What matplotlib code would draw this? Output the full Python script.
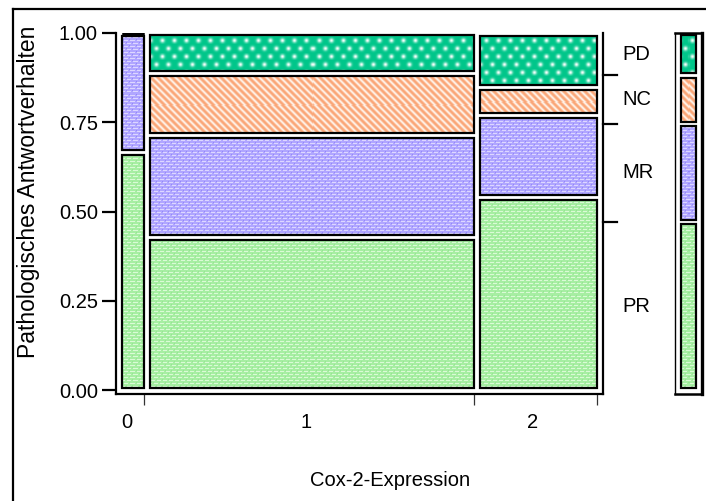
import numpy as np
import matplotlib
matplotlib.use("Agg")
import matplotlib.pyplot as plt
import matplotlib.transforms as mtransforms
from matplotlib.patches import Rectangle
from matplotlib.lines import Line2D

plt.rcParams['font.family'] = ['Liberation Sans', 'DejaVu Sans']

# ---- data -------------------------------------------------------------
expression_levels = ['0', '1', '2']
response_categories = ['PR', 'MR', 'NC', 'PD']          # bottom to top
counts_pr = [2, 15, 7]
counts_mr = [1, 10, 3]
counts_nc = [0, 6, 1]
counts_pd = [0, 4, 2]
y_ticks = [0.0, 0.25, 0.50, 0.75, 1.0]
y_tick_labels = ['0.00', '0.25', '0.50', '0.75', '1.00']
x_label = 'Cox-2-Expression'
y_label = 'Pathologisches Antwortverhalten'

counts = np.array([counts_pr, counts_mr, counts_nc, counts_pd], dtype=float)  # (cat, level)
col_totals = counts.sum(axis=0)
col_frac = col_totals / col_totals.sum()
col_edges = np.concatenate([[0.0], np.cumsum(col_frac)])
cell_frac = counts / col_totals
cell_edges = np.vstack([np.zeros(len(expression_levels)), np.cumsum(cell_frac, axis=0)])
marg = counts.sum(axis=1) / counts.sum()
marg_edges = np.concatenate([[0.0], np.cumsum(marg)])

# ---- figure layout (pixel based) --------------------------------------
W, H, DPI = 706, 501, 100
fig = plt.figure(figsize=(W / DPI, H / DPI), dpi=DPI)


def fig_box(x0, y0, x1, y1):
    return [x0 / W, 1 - y1 / H, (x1 - x0) / W, (y1 - y0) / H]


AX_L, AX_T, AX_R, AX_B = 116, 33, 603, 394
X0_PX, X1_PX = 119, 600          # pixel span of the unit interval on x
Y0_PX, Y1_PX = 390, 33           # pixel positions of 0 and 1 on y
ux = X1_PX - X0_PX
uy = Y0_PX - Y1_PX

ax = fig.add_axes(fig_box(AX_L, AX_T, AX_R, AX_B))
xlim = ((AX_L - X0_PX) / ux, (AX_R - X0_PX) / ux)
ylim = (-(AX_B - Y0_PX) / uy, 1 + (Y1_PX - AX_T) / uy)
ax.set_xlim(*xlim)
ax.set_ylim(*ylim)

axm = fig.add_axes(fig_box(675, AX_T, 702, AX_B))
axm.set_xlim(0, 1)
axm.set_ylim(*ylim)


# ---- fill textures ----------------------------------------------------
def mix(base, other, a):
    base = np.asarray(base, float)
    other = np.asarray(other, float)
    return base * (1 - a[..., None]) + other * a[..., None]


def texture(kind, X, Y):
    if kind == 'PD':
        row_sp, col_sp = 8.0, 12.0
        r = np.round(Y / row_sp)
        cy = r * row_sp
        shift = (r % 2) * col_sp / 2
        cx = np.round((X - shift) / col_sp) * col_sp + shift
        d2 = (X - cx) ** 2 + (Y - cy) ** 2
        a = 0.97 * np.exp(-d2 / (2 * 1.6 ** 2))
        return mix((0, 198, 138), (248, 255, 252), a)
    if kind == 'NC':
        t = ((X - Y) % 7) / 7.0
        a = (0.5 + 0.5 * np.cos(2 * np.pi * t)) ** 1.4
        return mix((250, 166, 120), (255, 242, 232), a)
    if kind == 'MR':
        base, light, dark = (176, 166, 255), (236, 232, 255), (130, 115, 245)
    else:
        base, light, dark = (166, 238, 162), (236, 255, 232), (140, 222, 138)
    row = Y % 3
    blk = (Y // 3) % 2
    c = (X + 3 * blk) % 6
    a = np.where((row == 1) & (c >= 1) & (c <= 4), 0.75, 0.0)
    img = mix(base, light, a)
    d = np.where((row == 0) & (c == 0), 0.6, 0.0)
    return mix(img, dark, d)


def textured_cell(axis, x0, x1, y0, y1, kind):
    p0 = axis.transData.transform((x0, y1))
    p1 = axis.transData.transform((x1, y0))
    ox, oy = p0[0], H - p0[1]
    w = max(int(round(p1[0] - p0[0])), 1)
    h = max(int(round((H - p1[1]) - oy)), 1)
    X, Y = np.meshgrid(np.arange(w) + np.floor(ox), np.arange(h) + np.floor(oy))
    img = np.clip(texture(kind, X, Y), 0, 255).astype(np.uint8)
    axis.imshow(img, extent=(x0, x1, y0, y1), origin='upper', aspect='auto',
                interpolation='nearest', zorder=1)
    axis.add_patch(Rectangle((x0, y0), x1 - x0, y1 - y0, fill=False,
                             edgecolor='black', lw=1.6, zorder=3,
                             joinstyle='miter'))


# ---- mosaic cells -----------------------------------------------------
ix, iy = 3.0 / ux, 2.5 / uy
for j in range(len(expression_levels)):
    cx0, cx1 = col_edges[j] + ix, col_edges[j + 1] - ix
    for i, cat in enumerate(response_categories):
        lo, hi = cell_edges[i, j], cell_edges[i + 1, j]
        if counts[i, j] == 0:
            ax.add_patch(Rectangle((cx0, hi), cx1 - cx0, 0, fill=False,
                                   edgecolor='black', lw=2.2, zorder=4))
            continue
        textured_cell(ax, cx0, cx1, lo + iy, hi - iy, cat)

# marginal bar
for i, cat in enumerate(response_categories):
    textured_cell(axm, 0.22, 0.78, marg_edges[i] + iy, marg_edges[i + 1] - iy, cat)

ax.set_xlim(*xlim)
ax.set_ylim(*ylim)
axm.set_xlim(0, 1)
axm.set_ylim(*ylim)

# ---- axes styling -----------------------------------------------------
for a in (ax, axm):
    a.set_facecolor('white')
    a.spines['top'].set_visible(False)
for s in ('left', 'bottom', 'right'):
    ax.spines[s].set_linewidth(1.6)

axm.set_xticks([])
axm.set_yticks([])
axm.spines['top'].set_visible(True)
axm.spines['top'].set_linewidth(1.8)
axm.spines['left'].set_linewidth(1.0)
axm.spines['right'].set_linewidth(2.4)
axm.spines['bottom'].set_linewidth(1.8)

ax.set_yticks(y_ticks, y_tick_labels)
ax.tick_params(axis='y', direction='out', length=10, width=1.6, labelsize=14.5,
               pad=3, colors='black')

centers = (col_edges[:-1] + col_edges[1:]) / 2
ax.set_xticks(centers, expression_levels)
ax.tick_params(axis='x', which='major', length=0, labelsize=14.5, pad=14)
ax.set_xticks(col_edges[1:] - ix, minor=True)
ax.tick_params(axis='x', which='minor', direction='out', length=8, width=0.9,
               color='#333333')
shift = mtransforms.ScaledTranslation(-6 / DPI, 0, fig.dpi_scale_trans)
for lab in ax.get_xticklabels():
    lab.set_transform(lab.get_transform() + shift)

# category ticks and labels on the right of the mosaic
blend = mtransforms.blended_transform_factory(ax.transAxes, ax.transData)
axw = AX_R - AX_L
for b in marg_edges[1:-1]:
    ax.add_line(Line2D([1.0, 1.0 + 14 / axw], [b, b], transform=blend,
                       color='black', lw=1.6, clip_on=False))
for i, cat in enumerate(response_categories):
    mid = (marg_edges[i] + marg_edges[i + 1]) / 2
    ax.text(1.0 + 19 / axw, mid, cat, transform=blend, ha='left', va='center',
            fontsize=14.5)

# axis titles
fig.text(390 / W, 1 - 481 / H, x_label, ha='center', va='center', fontsize=14.5)
fig.text(29 / W, 1 - 192 / H, y_label, rotation=90, ha='center', va='center',
         fontsize=16.5)

# report frame
fig.add_artist(Line2D([13 / W, 13 / W], [0, 1 - 9 / H], transform=fig.transFigure,
                      color='black', lw=1.6))
fig.add_artist(Line2D([13 / W, 1], [1 - 9 / H, 1 - 9 / H], transform=fig.transFigure,
                      color='black', lw=1.6))

fig.savefig('out.png', dpi=DPI)
